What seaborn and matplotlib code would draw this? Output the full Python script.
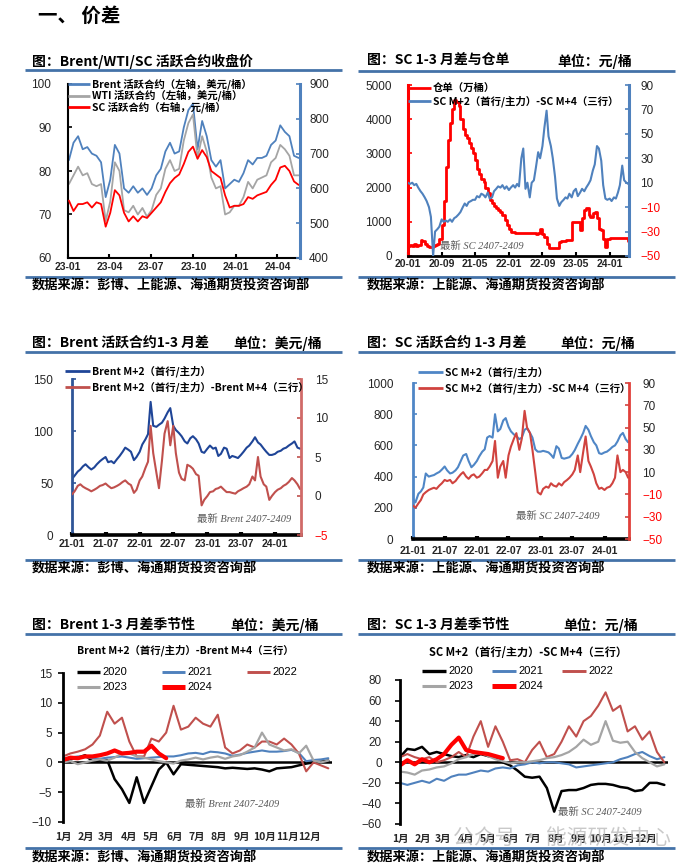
import numpy as np
import pandas as pd
import matplotlib
matplotlib.use("Agg")
import matplotlib.pyplot as plt
from matplotlib.lines import Line2D
import seaborn as sns

# ---------------- data ----------------
# Panel 1: Brent / WTI / SC active contract close (10-day samples from 2023-01-03)
p1_start = "2023-01-03"
p1_brent = [82.5, 86.5, 88.0, 85.0, 85.5, 84.0, 83.5, 82.0, 74.0, 78.0,
            86.0, 84.0, 76.0, 75.0, 76.5, 75.0, 76.0, 74.5, 76.0, 79.0,
            80.5, 84.5, 86.5, 84.0, 84.5, 90.0, 94.0, 95.5, 85.0, 91.5,
            88.0, 82.5, 81.0, 82.5, 76.0, 77.0, 78.0, 77.5, 79.5, 82.5,
            81.5, 83.0, 83.0, 83.5, 86.0, 87.0, 90.5, 89.0, 88.0, 83.5,
            83.0]
p1_wti = [77.0, 79.0, 81.0, 79.0, 79.5, 77.0, 76.5, 77.0, 68.5, 73.0,
          82.0, 80.0, 71.0, 70.5, 72.0, 70.0, 71.5, 69.5, 71.0, 74.5,
          76.0, 80.5, 82.5, 80.0, 80.5, 87.0, 91.0, 93.0, 83.0, 88.0,
          84.5, 78.5, 76.0, 76.5, 70.0, 70.5, 72.0, 72.0, 74.0, 77.5,
          76.0, 78.0, 78.5, 79.0, 82.0, 83.0, 86.0, 85.0, 83.5, 79.0,
          79.0]
p1_sc = [565, 535, 555, 555, 560, 545, 560, 555, 490, 530,
         595, 580, 530, 505, 520, 505, 520, 515, 530, 545,
         560, 590, 615, 630, 640, 670, 705, 720, 685, 710,
         690, 650, 640, 630, 580, 545, 550, 550, 555, 575,
         570, 580, 585, 590, 610, 625, 660, 665, 650, 620,
         610]
p1_xlabels = ["23-01", "23-04", "23-07", "23-10", "24-01", "24-04"]

# Panel 2: SC warehouse receipts and SC M+2 - M+4 (semi-monthly from 2020-01)
p2_start = "2020-01-01"
p2_receipt = [300, 320, 280, 350, 300, 330, 480, 430, 350, 300,
              250, 250, 300, 320, 350, 500, 900, 1600, 2600, 3400,
              3900, 4300, 4550, 4500, 4400, 4000, 3700, 3550, 3450, 3300,
              3150, 3000, 2800, 2550, 2400, 2250, 2150, 2000, 1850, 1650,
              1550, 1450, 1400, 1350, 1300, 1200, 1050, 900, 780, 700,
              700, 660, 660, 660, 660, 660, 660, 660, 660, 660,
              660, 650, 660, 800, 650, 560, 350, 220, 220, 220,
              220, 220, 420, 430, 450, 470, 480, 470, 1000, 1000,
              1000, 1000, 760, 1100, 1350, 1400, 1200, 1150, 1250, 1300,
              1100, 800, 750, 500, 270, 500, 520, 520, 520, 520,
              520, 520, 520, 520, 520, 450]
p2_spread = [10, 9, 10, 8, 9, 6, 3, 1, -2, -5,
             -10, -18, -50, -30, -28, -26, -20, -22, -21, -22,
             -20, -22, -19, -18, -16, -14, -10, -7, -9, -6,
             -5, -4, -4, -1, -2, 1, 0, -2, 2, -3,
             -2, 3, 5, 7, 6, 8, 5, 7, 4, 6,
             8, 6, 9, 7, 30, 38, 5, 10, -2, 10,
             12, 22, 35, 30, 40, 55, 69, 48, 40, 30,
             15, -3, -9, -6, -4, -2, -3, 1, -2, 3,
             5, -1, 2, 5, 3, 6, 9, 12, 20, 25,
             40, 38, 28, 8, -3, -4, -3, -5, -2, -3,
             2, 8, 24, 12, 10, 9]
p2_xlabels = ["20-01", "20-09", "21-05", "22-01", "22-09", "23-05", "24-01"]

# Panel 3: Brent M+2 and Brent M+2 - M+4 (semi-monthly from 2021-01)
p34_start = "2021-01-01"
p3_brent_m2 = [54, 57, 61, 63, 66, 68, 65, 63, 65, 68, 71, 73, 75, 70, 71, 69, 73, 76, 80, 84, 82, 80, 72, 75,
               80, 87, 92, 97, 128, 105, 104, 106, 108, 112, 118, 122, 105, 101, 98, 95, 90, 88, 93, 95, 92, 88, 80, 79,
               83, 86, 83, 84, 76, 78, 84, 83, 74, 76, 75, 74, 77, 80, 84, 86, 90, 94, 89, 87, 83, 80, 77, 77,
               78, 80, 81, 83, 84, 86, 88, 90, 84, 83]
p3_brent_spread = [0.2, 0.6, 1.3, 1.5, 1.2, 1.0, 0.8, 0.6, 0.8, 1.0, 1.3, 1.4, 1.6, 1.3, 1.0, 1.1, 1.3, 1.5, 1.8, 2.0, 1.6, 1.4, 0.4, 0.8,
                   2.0, 2.5, 3.6, 4.4, 9.0, 5.5, 3.0, 1.0, 4.5, 8.0, 9.6, 6.5, 9.0, 5.5, 3.0, 2.2, 2.0, 4.0, 3.8, 3.5, 2.8, 2.6, -1.2, -0.5,
                   0.0, 0.5, 0.6, 0.9, 1.0, 1.2, 0.8, 0.5, 0.5, 0.4, 0.3, 0.6, 0.8, 1.0, 1.2, 1.5, 2.5, 2.0, 5.0, 2.5, 1.5, 1.2, -0.5, 0.0,
                   0.5, 0.8, 1.0, 1.3, 1.5, 1.8, 2.3, 2.0, 1.5, 0.9]
p34_xlabels = ["21-01", "21-07", "22-01", "22-07", "23-01", "23-07", "24-01"]

# Panel 4: SC M+2 and SC M+2 - M+4 (semi-monthly from 2021-01)
p4_sc_m2 = [255, 235, 290, 305, 330, 420, 400, 405, 410, 420, 430, 445, 465, 440, 420, 425, 440, 460, 500, 535, 545, 500, 460, 475,
            500, 530, 560, 575, 650, 660, 650, 800, 690, 705, 760, 775, 720, 690, 670, 660, 640, 650, 700, 710, 680, 650, 575, 560,
            560, 565, 560, 555, 540, 520, 595, 580, 520, 515, 520, 525, 545, 570, 610, 640, 680, 725, 700, 660, 620, 600, 550, 545,
            555, 560, 575, 590, 600, 625, 665, 680, 640, 620]
p4_sc_spread = [-20, -22, -18, -15, -10, -8, -6, -5, -4, -5, -2, 0, 3, 2, 3, 0, 2, 5, 8, 10, 6, 4, 7, 8,
                5, 6, 9, 12, 12, 15, 20, 38, 5, 15, 20, 5, 25, 33, 40, 45, 30, 40, 65, 50, 45, 30, 10, -8,
                -10, -5, -3, -4, 0, -2, -3, 0, -2, 1, 3, 5, 8, 12, 25, 10, 28, 42, 20, 15, 8, 0, -5, -4,
                -6, -4, -3, 0, 5, 25, 10, 12, 10, 5]

# Panel 5: Brent 1-3 spread seasonality (10-day samples from Jan 1 of each year)
b_years = [2020, 2021, 2022, 2023, 2024]
b2020 = [0.3, 0.5, 0.8, 1.2, 0.2, 0.3, 0.4, -2.8, -4.5, -6.8, -2.5, -6.8, -4.0, -1.2, 0.0, -2.0, -0.3, -0.4, -0.5,
         -0.6, -0.7, -0.8, -1.0, -0.9, -1.0, -1.1, -1.0, -1.2, -1.5, -1.0, -0.9, -0.8, -0.5, -0.2, 0.0, 0.1, 0.3]
b2021 = [0.5, 0.8, 1.0, 0.9, 0.7, 0.6, 0.8, 0.9, 1.0, 0.8, 0.6, 0.7, 0.8, 0.9, 1.0, 1.0, 1.2, 1.5, 1.6,
         1.4, 1.8, 1.7, 1.5, 1.1, 1.3, 1.6, 1.8, 2.0, 1.8, 1.8, 1.9, 2.1, 1.6, 0.2, 0.4, 0.5, 0.7]
b2022 = [1.0, 1.5, 1.8, 2.2, 3.0, 4.5, 8.5, 6.5, 7.5, 3.5, 1.0, 1.0, 4.0, 3.5, 5.0, 9.5, 5.5, 6.0, 7.5,
         6.5, 6.0, 8.0, 2.5, 1.5, 2.0, 3.0, 2.5, 3.5, 3.5, 3.0, 4.0, 3.0, 1.5, -1.5, 0.0, -0.5, -1.0]
b2023 = [0.0, 0.2, -0.3, 0.0, 0.3, 0.5, 0.3, 0.8, 1.5, 1.5, 1.0, 0.8, 0.5, 0.2, 0.0, -0.2, 0.3, 0.5, 0.8,
         0.5, 0.8, 1.0, 0.6, 1.0, 1.2, 1.8, 2.5, 5.0, 3.0, 2.5, 2.0, 2.2, 1.5, 2.8, 0.3, 0.0, 0.3]
b2024 = [0.4, 0.8, 0.7, 1.0, 1.0, 1.2, 1.5, 2.0, 1.5, 1.6, 1.8, 1.8, 2.8, 1.5, 0.7]

# Panel 6: SC 1-3 spread seasonality
s2020 = [5, 13, 12, 15, 8, 10, 8, 6, 5, 7, 5, 8, 6, 5, 0, -3, -8, -14, -15, -14, -25, -48, -28, -27, -27,
         -25, -22, -21, -21, -22, -24, -25, -28, -27, -20, -20, -22]
s2021 = [-20, -22, -20, -18, -20, -16, -18, -14, -12, -12, -10, -8, -9, -6, -5, -6, -3, -2, 0, -1, 0, 0, -1,
         -2, -5, -4, -3, -2, -1, 0, 3, 5, 8, 10, 6, 3, 5]
s2022 = [5, 8, 5, 3, 5, 0, 2, 5, 10, 5, 25, 40, 15, 35, 20, 2, 3, 0, 12, 20, 5, 8, 20, 35, 25, 40, 45, 55,
         68, 50, 55, 30, 35, 22, 30, 10, 0]
s2023 = [-9, -10, -12, -8, -7, -5, -4, -1, 3, 5, 8, 9, 6, 3, 1, -1, 0, 0, 1, 2, 4, 5, 7, 10, 15, 22, 17, 20,
         40, 21, 19, 20, 10, 4, 0, -4, -2]
s2024 = [-3, 2, -2, 3, 0, 3, 8, 17, 24, 12, 10, 9, 8, 6, 4]
month_labels = ["1月", "2月", "3月", "4月", "5月", "6月", "7月", "8月", "9月", "10月", "11月", "12月"]

# ---------------- style ----------------
sns.set_theme(style="white")
plt.rcParams["font.family"] = ["Liberation Sans", "Noto Sans CJK SC"]
plt.rcParams["axes.unicode_minus"] = True

CJK = ["Noto Sans CJK SC", "Liberation Sans"]
NUM = ["Liberation Sans", "Noto Sans CJK SC"]
C_BLUE = "#4F81BD"
C_GREY = "#A5A5A5"
C_RED = "#FF0000"
C_IRED = "#C0504D"
C_NAVY = "#1F4597"
C_P4BLUE = "#4F86C6"
C_P4RED = "#D0433F"
SEP = "#4472A8"

W, H = 700, 868
fig = plt.figure(figsize=(W / 100, H / 100), dpi=100)
fig.patch.set_facecolor("white")


def fx(x):
    return x / W


def fy(y):
    return 1 - y / H


def rect(l, t, r, b):
    return [fx(l), fy(b), (r - l) / W, (b - t) / H]


def fline(x0, x1, y, color, lw):
    fig.add_artist(Line2D([fx(x0), fx(x1)], [fy(y), fy(y)], transform=fig.transFigure,
                          color=color, lw=lw, solid_capstyle="butt"))


def ftext(x, y, s, size, ha="left", weight="bold", family=CJK, color="black", style="normal", alpha=1.0):
    fig.text(fx(x), fy(y), s, ha=ha, va="center", fontsize=size, fontweight=weight,
             family=family, color=color, style=style, alpha=alpha)


def leg(x0, x1, y, color, lw, label, size=7.5, family=CJK, weight="bold"):
    fline(x0, x1, y, color, lw)
    ftext(x1 + 2, y, label, size, weight=weight, family=family)


def ylab(v):
    return f"{v:g}".replace("-", "\u2212")


def style_y(ax, ticks, side, pad, red_neg=False, tcolor="black", direction="in", length=3, size=8.5):
    ax.set_yticks(ticks)
    tl = ax.set_yticklabels([ylab(t) for t in ticks], fontsize=size, family=NUM)
    if red_neg:
        for t, v in zip(tl, ticks):
            if v < 0:
                t.set_color(C_RED)
    if side == "left":
        ax.tick_params(axis="y", left=True, right=False, labelleft=True, labelright=False,
                       direction=direction, length=length, width=1.2, pad=pad, color=tcolor)
    else:
        ax.tick_params(axis="y", right=True, left=False, labelright=True, labelleft=False,
                       direction=direction, length=length, width=1.2, pad=pad, color=tcolor)


def date_ticks(ax, labels, pad, width=1.5, length=3):
    pos = pd.to_datetime(["20" + s for s in labels], format="%Y-%m")
    ax.set_xticks(list(pos))
    ax.set_xticklabels(labels, fontsize=7.5, fontweight="bold", family=NUM)
    ax.tick_params(axis="x", bottom=True, top=False, direction="in", length=length, width=width,
                   pad=pad, color="black")


def spines(ax, left=None, right=None, bottom=None):
    for name, spec in (("left", left), ("right", right), ("bottom", bottom)):
        if spec is None:
            ax.spines[name].set_visible(False)
        else:
            ax.spines[name].set_visible(True)
            ax.spines[name].set_color(spec[0])
            ax.spines[name].set_linewidth(spec[1])
    ax.spines["top"].set_visible(False)


def clear_labels(*axs):
    for a in axs:
        a.set_xlabel("")
        a.set_ylabel("")


def line(ax, x, y, color, lw, **kw):
    sns.lineplot(x=x, y=y, ax=ax, color=color, linewidth=lw, errorbar=None, legend=False, **kw)


END = pd.Timestamp("2024-05-20")

# ---------------- Panel 1 ----------------
ax1 = fig.add_axes(rect(68, 84, 300, 258))
d1 = pd.date_range(p1_start, periods=len(p1_brent), freq="10D")
line(ax1, d1, p1_brent, C_BLUE, 1.3)
line(ax1, d1, p1_wti, C_GREY, 1.3)
ax1b = ax1.twinx()
line(ax1b, d1, p1_sc, C_RED, 1.3)
ax1.set_ylim(60, 100)
ax1b.set_ylim(400, 900)
ax1.set_xlim(pd.Timestamp("2023-01-01"), END)
date_ticks(ax1, p1_xlabels, pad=3)
style_y(ax1, [60, 70, 80, 90, 100], "left", pad=12)
style_y(ax1b, [400, 500, 600, 700, 800, 900], "right", pad=6.5, tcolor=C_BLUE)
spines(ax1, left=("black", 1.5), bottom=("black", 1.5))
spines(ax1b, right=(C_BLUE, 2.2))
clear_labels(ax1, ax1b)

# ---------------- Panel 2 ----------------
ax2 = fig.add_axes(rect(408, 85, 629, 256))
d2 = pd.date_range(p2_start, periods=len(p2_receipt), freq="SMS")
line(ax2, d2, p2_receipt, C_RED, 2.0, drawstyle="steps-post")
ax2b = ax2.twinx()
line(ax2b, d2, p2_spread, C_BLUE, 1.5)
ax2.set_ylim(0, 5000)
ax2b.set_ylim(-50, 90)
ax2.set_xlim(pd.Timestamp("2020-01-01"), END)
date_ticks(ax2, p2_xlabels, pad=2)
style_y(ax2, [0, 1000, 2000, 3000, 4000, 5000], "left", pad=11.5, tcolor=C_RED)
style_y(ax2b, [-50, -30, -10, 10, 30, 50, 70, 90], "right", pad=8, red_neg=True, tcolor=C_BLUE)
spines(ax2, left=(C_RED, 2.2), bottom=("black", 2.0))
spines(ax2b, right=(C_BLUE, 2.2))
clear_labels(ax2, ax2b)

# ---------------- Panel 3 ----------------
d34 = pd.date_range(p34_start, periods=len(p3_brent_m2), freq="SMS")
ax3 = fig.add_axes(rect(72, 379, 301, 535))
line(ax3, d34, p3_brent_m2, C_NAVY, 1.5)
ax3b = ax3.twinx()
line(ax3b, d34, p3_brent_spread, C_IRED, 1.5)
ax3.set_ylim(0, 150)
ax3b.set_ylim(-5, 15)
ax3.set_xlim(pd.Timestamp("2021-01-01"), END)
date_ticks(ax3, p34_xlabels, pad=3, width=3, length=2)
style_y(ax3, [0, 50, 100, 150], "left", pad=13.5, tcolor="#2F5597")
style_y(ax3b, [-5, 0, 5, 10, 15], "right", pad=10, red_neg=True, tcolor=C_IRED)
spines(ax3, left=("#2F5597", 2.0), bottom=("black", 2.6))
spines(ax3b, right=("#D06A68", 2.0))
clear_labels(ax3, ax3b)

# ---------------- Panel 4 ----------------
ax4 = fig.add_axes(rect(413, 383, 629, 539))
line(ax4, d34, p4_sc_m2, C_P4BLUE, 1.5)
ax4b = ax4.twinx()
line(ax4b, d34, p4_sc_spread, C_P4RED, 1.5)
ax4.set_ylim(0, 1000)
ax4b.set_ylim(-50, 90)
ax4.set_xlim(pd.Timestamp("2021-01-01"), END)
date_ticks(ax4, p34_xlabels, pad=5, width=3, length=2)
style_y(ax4, [0, 200, 400, 600, 800, 1000], "left", pad=14, tcolor=C_P4BLUE)
style_y(ax4b, [-50, -30, -10, 10, 30, 50, 70, 90], "right", pad=9.5, red_neg=True, tcolor=C_P4RED)
spines(ax4, left=(C_P4BLUE, 2.0), bottom=("black", 2.6))
spines(ax4b, right=("#E0403A", 2.0))
clear_labels(ax4, ax4b)

# ---------------- Seasonal panels ----------------
month_pos = list(pd.date_range("2023-01-01", periods=12, freq="MS").dayofyear - 1)
season_colors = {2020: ("black", 1.8), 2021: (C_BLUE, 1.5), 2022: (C_IRED, 1.5),
                 2023: (C_GREY, 1.6), 2024: (C_RED, 3.0)}


def seasonal(ax, series, ylim, yticks, ypad):
    ax.axhline(0, color="black", lw=1.8, zorder=1)
    for yr, vals in zip(b_years, series):
        d = pd.date_range(f"{yr}-01-01", periods=len(vals), freq="10D")
        col, lw = season_colors[yr]
        line(ax, np.asarray(d.dayofyear - 1), vals, col, lw)
    ax.set_xlim(0, 365)
    ax.set_ylim(*ylim)
    ax.set_xticks(month_pos)
    ax.set_xticklabels(month_labels, fontsize=7.5, fontweight="bold", family=CJK)
    ax.tick_params(axis="x", bottom=False, top=False, pad=1.5)
    style_y(ax, yticks, "left", pad=ypad, direction="out", length=3.5)
    spines(ax, left=("black", 2.0))
    clear_labels(ax)


ax5 = fig.add_axes(rect(63, 673, 332, 822))
seasonal(ax5, [b2020, b2021, b2022, b2023, b2024], (-10, 15), [-10, -5, 0, 5, 10, 15], 4.5)

ax6 = fig.add_axes(rect(400, 680, 668, 824))
seasonal(ax6, [s2020, s2021, s2022, s2023, s2024], (-60, 80), [-60, -40, -20, 0, 20, 40, 60, 80], 9.5)

# ---------------- legends ----------------
leg(68, 90, 84, C_BLUE, 2, "Brent 活跃合约（左轴，美元/桶）")
leg(68, 90, 95.5, C_GREY, 2, "WTI 活跃合约（左轴，美元/桶）")
leg(68, 90, 107, C_RED, 2, "SC 活跃合约（右轴，元/桶）")

leg(408, 431, 88, C_RED, 2, "仓单（万桶）")
leg(408, 431, 101, C_BLUE, 2, "SC M+2（首行/主力）-SC M+4（三行）")

leg(65, 90, 371, C_NAVY, 2, "Brent M+2（首行/主力）")
leg(65, 90, 387, C_IRED, 2, "Brent M+2（首行/主力）-Brent M+4（三行）")

leg(418, 443, 372, C_P4BLUE, 2, "SC M+2（首行/主力）")
leg(418, 443, 388, C_P4RED, 2, "SC M+2（首行/主力）-SC M+4（三行）")

for (cx, cy), yr in zip([(77, 672), (162, 672), (247, 672), (77, 687), (162, 687)], b_years):
    col, lw = season_colors[yr]
    leg(cx, cx + 23, cy, col, lw + 0.6, str(yr), size=8, family=NUM, weight="normal")
for (cx, cy), yr in zip([(422, 671), (492, 671), (562, 671), (422, 686), (492, 686)], b_years):
    col, lw = season_colors[yr]
    leg(cx, cx + 24, cy, col, lw + 0.6, str(yr), size=8, family=NUM, weight="normal")

# ---------------- headings, titles, sources ----------------
ftext(38, 16, "一、 价差", 14)

for x0, x1, y in [(25, 342, 70), (25, 342, 277), (358, 675, 71), (358, 675, 277),
                  (25, 342, 352), (25, 342, 560), (358, 675, 352), (358, 675, 560),
                  (25, 342, 634), (25, 342, 848), (358, 675, 634), (358, 675, 848)]:
    fline(x0, x1, y, SEP, 2.0)

ftext(32, 61, "图：Brent/WTI/SC 活跃合约收盘价", 10)
ftext(367, 61, "图：SC 1-3 月差与仓单", 10)
ftext(557, 61, "单位：元/桶", 10)
ftext(32, 343, "图：Brent 活跃合约1-3 月差", 10)
ftext(233, 343, "单位：美元/桶", 10)
ftext(367, 343, "图：SC 活跃合约 1-3 月差", 10)
ftext(560, 343, "单位：元/桶", 10)
ftext(32, 625, "图：Brent 1-3 月差季节性", 10)
ftext(230, 625, "单位：美元/桶", 10)
ftext(367, 625, "图：SC 1-3 月差季节性", 10)
ftext(563, 625, "单位：元/桶", 10)

ftext(32, 286, "数据来源：彭博、上能源、海通期货投资咨询部", 9.5)
ftext(367, 286, "数据来源：上能源、海通期货投资咨询部", 9.5)
ftext(32, 569, "数据来源：彭博、海通期货投资咨询部", 9.5)
ftext(367, 569, "数据来源：上能源、海通期货投资咨询部", 9.5)
ftext(32, 858, "数据来源：彭博、海通期货投资咨询部", 9.5)
ftext(367, 858, "数据来源：上能源、海通期货投资咨询部", 9.5)

ftext(185, 650, "Brent M+2（首行/主力）-Brent M+4（三行）", 7.5, ha="center")
ftext(528, 652, "SC M+2（首行/主力）-SC M+4（三行）", 8, ha="center")

NOTE = ["Liberation Serif", "Noto Sans CJK SC"]
ftext(482, 246, "最新 SC 2407-2409", 7.5, ha="center", weight="normal", family=NOTE, color="#595959", style="italic")
ftext(244, 519, "最新 Brent 2407-2409", 7.5, ha="center", weight="normal", family=NOTE, color="#595959", style="italic")
ftext(558, 516, "最新 SC 2407-2409", 7.5, ha="center", weight="normal", family=NOTE, color="#595959", style="italic")
ftext(232, 804, "最新 Brent 2407-2409", 7.5, ha="center", weight="normal", family=NOTE, color="#595959", style="italic")
ftext(600, 812, "最新 SC 2407-2409", 7.5, ha="center", weight="normal", family=NOTE, color="#595959", style="italic")

ftext(562, 838, "公众号 · 能源研发中心", 15, ha="center", weight="normal", color="#b8b8b8", alpha=0.75)

fig.savefig("out.png", dpi=100, facecolor="white")
